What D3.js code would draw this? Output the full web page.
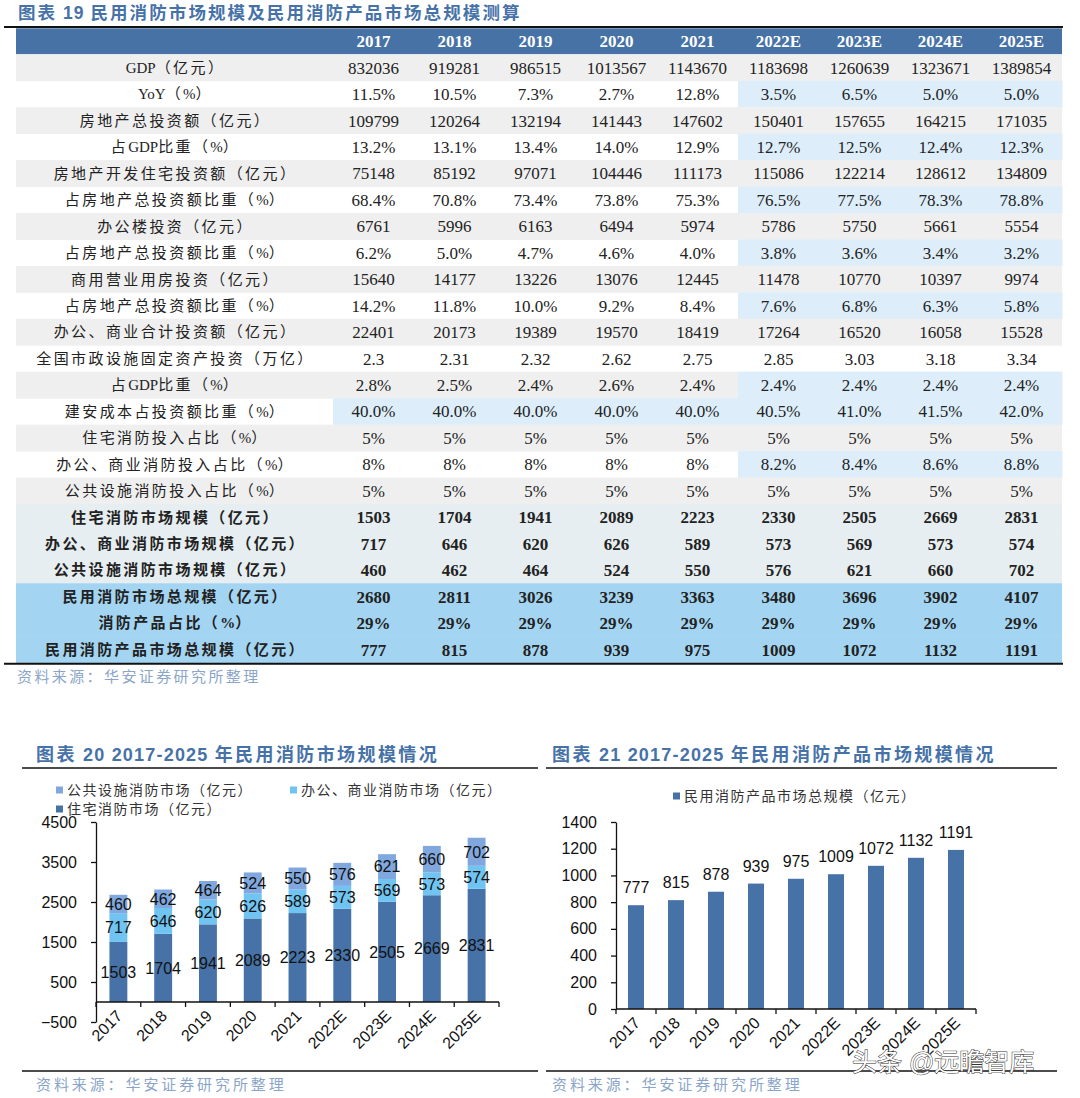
<!DOCTYPE html>
<html><head><meta charset="utf-8">
<script src="https://cdn.jsdelivr.net/npm/d3@7"></script>
<style>
html,body{margin:0;padding:0;background:#fff;}
svg{display:block;}
</style></head>
<body>
<svg id="c" width="1080" height="1098"></svg>
<script>
// ---------- DATA ----------
const years = ["2017","2018","2019","2020","2021","2022E","2023E","2024E","2025E"];
const rowLabels = [
  "GDP（亿元）","YoY（%）","房地产总投资额（亿元）","占GDP比重（%）","房地产开发住宅投资额（亿元）",
  "占房地产总投资额比重（%）","办公楼投资（亿元）","占房地产总投资额比重（%）","商用营业用房投资（亿元）",
  "占房地产总投资额比重（%）","办公、商业合计投资额（亿元）","全国市政设施固定资产投资（万亿）","占GDP比重（%）",
  "建安成本占投资额比重（%）","住宅消防投入占比（%）","办公、商业消防投入占比（%）","公共设施消防投入占比（%）",
  "住宅消防市场规模（亿元）","办公、商业消防市场规模（亿元）","公共设施消防市场规模（亿元）",
  "民用消防市场总规模（亿元）","消防产品占比（%）","民用消防产品市场总规模（亿元）"
];
const gdp = ["832036","919281","986515","1013567","1143670","1183698","1260639","1323671","1389854"];
const gdpYoY = ["11.5%","10.5%","7.3%","2.7%","12.8%","3.5%","6.5%","5.0%","5.0%"];
const reInvest = ["109799","120264","132194","141443","147602","150401","157655","164215","171035"];
const reShareGDP = ["13.2%","13.1%","13.4%","14.0%","12.9%","12.7%","12.5%","12.4%","12.3%"];
const resInvest = ["75148","85192","97071","104446","111173","115086","122214","128612","134809"];
const resShare = ["68.4%","70.8%","73.4%","73.8%","75.3%","76.5%","77.5%","78.3%","78.8%"];
const officeInvest = ["6761","5996","6163","6494","5974","5786","5750","5661","5554"];
const officeShare = ["6.2%","5.0%","4.7%","4.6%","4.0%","3.8%","3.6%","3.4%","3.2%"];
const commInvest = ["15640","14177","13226","13076","12445","11478","10770","10397","9974"];
const commShare = ["14.2%","11.8%","10.0%","9.2%","8.4%","7.6%","6.8%","6.3%","5.8%"];
const offCommTotal = ["22401","20173","19389","19570","18419","17264","16520","16058","15528"];
const municipal = ["2.3","2.31","2.32","2.62","2.75","2.85","3.03","3.18","3.34"];
const municipalShare = ["2.8%","2.5%","2.4%","2.6%","2.4%","2.4%","2.4%","2.4%","2.4%"];
const constructionShare = ["40.0%","40.0%","40.0%","40.0%","40.0%","40.5%","41.0%","41.5%","42.0%"];
const resFireShare = ["5%","5%","5%","5%","5%","5%","5%","5%","5%"];
const offFireShare = ["8%","8%","8%","8%","8%","8.2%","8.4%","8.6%","8.8%"];
const pubFireShare = ["5%","5%","5%","5%","5%","5%","5%","5%","5%"];
const residential = [1503,1704,1941,2089,2223,2330,2505,2669,2831];
const officeCommercial = [717,646,620,626,589,573,569,573,574];
const publicFacilities = [460,462,464,524,550,576,621,660,702];
const totalMarket = [2680,2811,3026,3239,3363,3480,3696,3902,4107];
const productShare = ["29%","29%","29%","29%","29%","29%","29%","29%","29%"];
const productMarket = [777,815,878,939,975,1009,1072,1132,1191];
const yTicks20 = [-500,500,1500,2500,3500,4500];
const yTicks21 = [0,200,400,600,800,1000,1200,1400];

const rowValues = [gdp,gdpYoY,reInvest,reShareGDP,resInvest,resShare,officeInvest,officeShare,commInvest,commShare,
  offCommTotal,municipal,municipalShare,constructionShare,resFireShare,offFireShare,pubFireShare,
  residential,officeCommercial,publicFacilities,totalMarket,productShare,productMarket];
const forecastHighlightRows = [1,3,5,7,9,12,15];
const allHighlightRows = [13];

// ---------- STYLE ----------
const C = {
  title:"#4672a8", header:"#4672a6", gray:"#efefef", hl:"#ddeefa", boldBg:"#e6eef1", sumBg:"#a3d5f2",
  res:"#4672a7", off:"#6fc4f2", pub:"#80a8df", src:"#8aa5c9"
};
const serif = "'Liberation Serif','Noto Sans CJK SC',serif";
const sans = "'Liberation Sans','Noto Sans CJK SC',sans-serif";
const svg = d3.select("#c");

// letter-spacing on CJK runs (ls) and latin runs (lsLatin)
function spacedText(sel, str, ls, lsLatin){
  const runs = str.match(/[\u3000-\u9fff\uff00-\uffef]+|[^\u3000-\u9fff\uff00-\uffef]+/g);
  runs.forEach(r=>{
    const cjk = /[\u3000-\u9fff\uff00-\uffef]/.test(r);
    sel.append("tspan").attr("letter-spacing", cjk ? ls : (lsLatin||0)).text(r);
  });
  return sel;
}

// ---------- TABLE ----------
svg.append("text").attr("x",18).attr("y",13).attr("dy","0.36em")
  .attr("font-family",sans).attr("font-weight","bold").attr("font-size",17.5)
  .attr("fill",C.title).call(s=>spacedText(s,"图表 19 民用消防市场规模及民用消防产品市场总规模测算",2.1,1));
svg.append("line").attr("x1",4).attr("x2",1063).attr("y1",27).attr("y2",27).attr("stroke","#111").attr("stroke-width",2);

const tLeft = 16, labelRight = 333, tRight = 1062, headTop = 28.3, headH = 26, rowH = 26.45;
const colX = d3.scaleBand().domain(years).range([labelRight, tRight]);
const rowY = d3.scaleBand().domain(d3.range(rowLabels.length)).range([headTop+headH, headTop+headH+rowH*rowLabels.length]);

svg.append("rect").attr("x",tLeft).attr("y",headTop).attr("width",tRight-tLeft).attr("height",headH).attr("fill",C.header);
svg.selectAll(".hd").data(years).join("text")
  .attr("x",d=>colX(d)+colX.bandwidth()/2).attr("y",headTop+headH/2).attr("dy","0.36em")
  .attr("text-anchor","middle").attr("font-family",serif).attr("font-weight","bold").attr("font-size",17)
  .attr("fill","#fff").text(d=>d);

rowLabels.forEach((lab,i)=>{
  const y0 = rowY(i);
  let bg = null;
  if (i>=20) bg = C.sumBg; else if (i>=17) bg = C.boldBg; else if (i%2===0) bg = C.gray;
  if (bg) svg.append("rect").attr("x",tLeft).attr("y",y0).attr("width",tRight-tLeft).attr("height",rowH+0.5).attr("fill",bg);
  years.forEach((yr,j)=>{
    const hl = allHighlightRows.includes(i) || (forecastHighlightRows.includes(i) && yr.endsWith("E"));
    if (hl) svg.append("rect").attr("x",colX(yr)).attr("y",y0).attr("width",colX.bandwidth()+0.5).attr("height",rowH+0.5).attr("fill",C.hl);
  });
  const bold = i>=17;
  svg.append("text").attr("x",(tLeft+labelRight)/2+1).attr("y",y0+rowH/2).attr("dy","0.36em")
    .attr("text-anchor","middle").attr("font-family",serif).attr("font-size",15)
    .attr("font-weight",bold?"bold":"normal").attr("fill","#222").call(s=>spacedText(s,lab,2.4,0));
  svg.selectAll(null).data(rowValues[i]).join("text")
    .attr("x",(d,j)=>colX(years[j])+colX.bandwidth()/2).attr("y",y0+rowH/2).attr("dy","0.36em")
    .attr("text-anchor","middle").attr("font-family",serif).attr("font-size",17)
    .attr("font-weight",bold?"bold":"normal").attr("fill","#222").text(d=>d);
});
const tBottom = rowY(rowLabels.length-1)+rowH;
svg.append("line").attr("x1",4).attr("x2",1063).attr("y1",tBottom+1).attr("y2",tBottom+1).attr("stroke","#111").attr("stroke-width",2);
svg.append("text").attr("x",17).attr("y",677).attr("dy","0.36em").attr("font-family",sans).attr("font-size",15)
  .attr("letter-spacing",2.4).attr("fill",C.src).text("资料来源：华安证券研究所整理");

// ---------- CHART TITLES / LINES ----------
function chartFrame(x, x1, x2, title){
  svg.append("text").attr("x",x).attr("y",755).attr("dy","0.36em").attr("font-family",sans)
    .attr("font-weight","bold").attr("font-size",18).attr("fill",C.title).call(s=>spacedText(s,title,2.4,1.2));
  svg.append("line").attr("x1",x1).attr("x2",x2).attr("y1",768).attr("y2",768).attr("stroke","#111").attr("stroke-width",1.6);
  svg.append("line").attr("x1",x1).attr("x2",x2).attr("y1",1071).attr("y2",1071).attr("stroke","#111").attr("stroke-width",1.6);
  svg.append("text").attr("x",x).attr("y",1085).attr("dy","0.36em").attr("font-family",sans).attr("font-size",15)
    .attr("letter-spacing",2.9).attr("fill",C.src).text("资料来源：华安证券研究所整理");
}
chartFrame(36, 22, 538, "图表 20 2017-2025 年民用消防市场规模情况");
chartFrame(552, 546, 1057, "图表 21 2017-2025 年民用消防产品市场规模情况");

function legendItem(x, y, color, label){
  svg.append("rect").attr("x",x).attr("y",y-3.5).attr("width",7).attr("height",7).attr("fill",color);
  svg.append("text").attr("x",x+11).attr("y",y).attr("dy","0.36em").attr("font-family",sans)
    .attr("font-size",14).attr("letter-spacing",1.5).attr("fill","#333").text(label);
}

// ---------- CHART 20 (stacked) ----------
legendItem(56, 790, C.pub, "公共设施消防市场（亿元）");
legendItem(290, 790, C.off, "办公、商业消防市场（亿元）");
legendItem(56, 809, C.res, "住宅消防市场（亿元）");

const x20 = d3.scaleBand().domain(years).range([96,499]).paddingInner(0.6).paddingOuter(0.3);
const y20 = d3.scaleLinear().domain([-500,4500]).range([1022,822]);
const stackData = years.map((yr,i)=>({year:yr, res:residential[i], off:officeCommercial[i], pub:publicFacilities[i]}));
const series = d3.stack().keys(["res","off","pub"])(stackData);
const colors20 = {res:C.res, off:C.off, pub:C.pub};
const g20 = svg.append("g");
series.forEach(s=>{
  g20.selectAll(null).data(s).join("rect")
    .attr("x",d=>x20(d.data.year)).attr("width",x20.bandwidth())
    .attr("y",d=>y20(d[1])).attr("height",d=>y20(d[0])-y20(d[1])).attr("fill",colors20[s.key]);
});
series.forEach(s=>{
  g20.selectAll(null).data(s).join("text")
    .attr("x",d=>x20(d.data.year)+x20.bandwidth()/2).attr("y",d=>(y20(d[0])+y20(d[1]))/2).attr("dy","0.36em")
    .attr("text-anchor","middle").attr("font-family",sans).attr("font-size",16).attr("fill","#111")
    .text(d=>d.data[s.key]);
});
const ax20 = svg.append("g").attr("transform","translate(96,0)")
  .call(d3.axisLeft(y20).tickValues(yTicks20).tickSize(5).tickSizeOuter(0).tickPadding(14).tickFormat(d3.format("d")));
ax20.select(".domain").attr("stroke","#111").attr("stroke-width",1.3);
ax20.selectAll(".tick line").attr("stroke","#111").attr("stroke-width",1.3);
ax20.selectAll(".tick text").attr("font-family",sans).attr("font-size",16).attr("fill","#111");
const zero20 = y20(0);
svg.append("line").attr("x1",x20.range()[0]).attr("x2",x20.range()[1]).attr("y1",zero20).attr("y2",zero20).attr("stroke","#111").attr("stroke-width",1.3);
d3.range(years.length+1).forEach(i=>{
  const xx = x20.range()[0] + i*x20.step();
  svg.append("line").attr("x1",xx).attr("x2",xx).attr("y1",zero20).attr("y2",zero20+5).attr("stroke","#111").attr("stroke-width",1.3);
});
svg.selectAll(null).data(years).join("text")
  .attr("transform",d=>`translate(${x20(d)+x20.bandwidth()/2+5},${zero20+15}) rotate(-45)`)
  .attr("text-anchor","end").attr("font-family",sans).attr("font-size",16).attr("fill","#111").text(d=>d);

// ---------- CHART 21 ----------
legendItem(673, 796, C.res, "民用消防产品市场总规模（亿元）");
const x21 = d3.scaleBand().domain(years).range([616,976]).paddingInner(0.6).paddingOuter(0.3);
const y21 = d3.scaleLinear().domain([0,1400]).range([1009,822]);
svg.selectAll(null).data(productMarket).join("rect")
  .attr("x",(d,i)=>x21(years[i])).attr("width",x21.bandwidth())
  .attr("y",d=>y21(d)).attr("height",d=>y21(0)-y21(d)).attr("fill",C.res);
svg.selectAll(null).data(productMarket).join("text")
  .attr("x",(d,i)=>x21(years[i])+x21.bandwidth()/2).attr("y",d=>y21(d)-12)
  .attr("text-anchor","middle").attr("font-family",sans).attr("font-size",16).attr("fill","#111").text(d=>d);
const ax21 = svg.append("g").attr("transform","translate(616,0)")
  .call(d3.axisLeft(y21).tickValues(yTicks21).tickSize(5).tickSizeOuter(0).tickPadding(14).tickFormat(d3.format("d")));
ax21.select(".domain").attr("stroke","#111").attr("stroke-width",1.3);
ax21.selectAll(".tick line").attr("stroke","#111").attr("stroke-width",1.3);
ax21.selectAll(".tick text").attr("font-family",sans).attr("font-size",16).attr("fill","#111");
const zero21 = y21(0);
svg.append("line").attr("x1",x21.range()[0]).attr("x2",x21.range()[1]).attr("y1",zero21).attr("y2",zero21).attr("stroke","#111").attr("stroke-width",1.3);
d3.range(years.length+1).forEach(i=>{
  const xx = x21.range()[0] + i*x21.step();
  svg.append("line").attr("x1",xx).attr("x2",xx).attr("y1",zero21).attr("y2",zero21+5).attr("stroke","#111").attr("stroke-width",1.3);
});
svg.selectAll(null).data(years).join("text")
  .attr("transform",d=>`translate(${x21(d)+x21.bandwidth()/2+5},${zero21+15}) rotate(-45)`)
  .attr("text-anchor","end").attr("font-family",sans).attr("font-size",16).attr("fill","#111").text(d=>d);

// watermark
svg.append("text").attr("x",852).attr("y",1062).attr("dy","0.36em").attr("font-family",sans)
  .attr("font-size",25).attr("fill","#fff").attr("stroke","#333").attr("stroke-width",1)
  .attr("paint-order","stroke").text("头条 @远瞻智库");
</script>
</body></html>
